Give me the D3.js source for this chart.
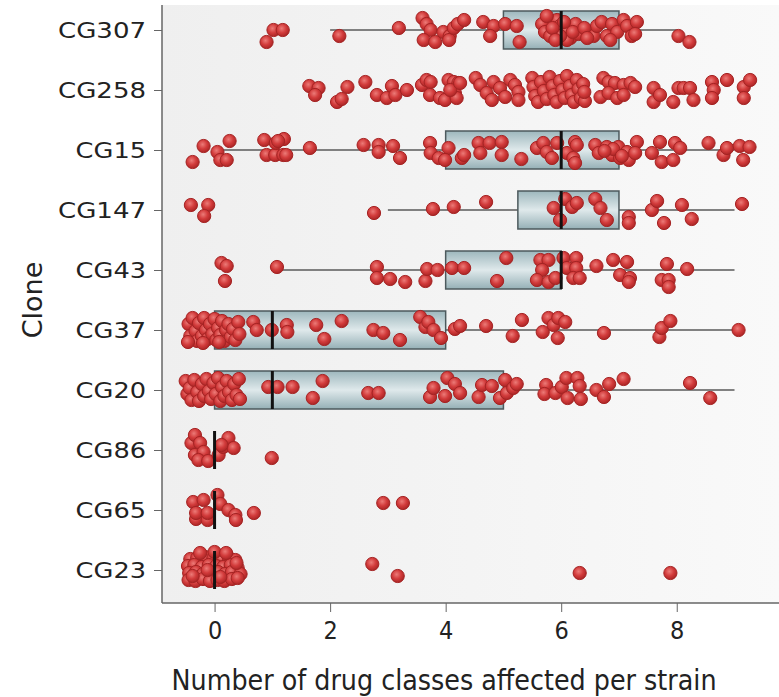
<!DOCTYPE html>
<html>
<head>
<meta charset="utf-8">
<script src="https://cdn.jsdelivr.net/npm/d3@7"></script>
<style>
  body { margin: 0; background: #fff; }
  svg { display: block; }
</style>
</head>
<body>
<div id="chart"></div>
<script>
// clones, top to bottom
const clones = ['CG307', 'CG258', 'CG15', 'CG147', 'CG43', 'CG37', 'CG20', 'CG86', 'CG65', 'CG23']

// box stats per clone (null = no box drawn)
const q1 = [5, null, 4, 5.25, 4, 0, 0, 0, 0, 0]
const medians = [6, null, 6, 6, 6, 1, 1, 0, 0, 0]
const q3 = [7, null, 7, 7, 6, 4, 5, 0, 0, 0]
const whiskLo = [2, null, 0, 3, 1, 0, 0, 0, 0, 0]
const whiskHi = [8, null, 9, 9, 9, 9, 9, 0, 0, 0]

const xTicks = [0, 2, 4, 6, 8]

// strains: [drug classes (jittered as plotted), vertical jitter -1..1]
const cg307 = [[0.90, 0.6], [1.02, 0], [1.18, 0], [2.16, 0.3], [3.19, -0.1], [3.60, -0.6], [3.67, -0.3], [3.74, 0], [3.62, 0.5], [3.82, 0.6], [3.96, 0.1], [4.07, 0.3], [4.06, 0.5], [4.14, -0.1], [4.21, -0.3], [4.32, -0.5], [4.65, -0.4], [4.83, -0.2], [4.77, 0.3], [5.03, -0.3], [5.23, -0.2], [5.28, 0.6], [5.67, -0.3], [5.72, 0.1], [5.81, 0.3], [5.93, -0.5], [5.98, -0.2], [6.10, 0], [6.16, 0.4], [6.25, -0.3], [6.30, 0.2], [6.10, 0.5], [5.98, 0.3], [5.75, -0.7], [6.56, 0.3], [6.62, -0.2], [6.70, -0.4], [6.79, 0.3], [6.88, -0.3], [6.97, 0.1], [7.08, -0.5], [7.14, -0.2], [7.22, 0.3], [7.31, -0.4], [7.28, 0.2], [8.03, 0.3], [8.22, 0.6], [5.85, -0.1], [6.05, -0.4], [6.20, 0.1], [5.90, 0.5], [6.40, -0.1], [6.45, 0.4], [6.85, 0.5]]
const cg258 = [[1.64, -0.2], [1.80, -0.1], [1.74, 0.25], [2.12, 0.6], [2.20, 0.45], [2.30, -0.15], [2.61, -0.4], [2.81, 0.25], [2.98, 0.4], [3.07, -0.2], [3.13, 0.25], [3.33, 0], [3.59, -0.25], [3.67, -0.5], [3.74, -0.4], [3.73, 0.25], [3.90, 0.4], [3.99, 0.5], [4.05, -0.5], [4.14, -0.4], [4.22, -0.35], [4.16, 0.15], [4.19, 0.4], [4.08, 0], [4.25, -0.35], [4.52, -0.6], [4.60, -0.25], [4.71, 0.15], [4.80, 0.5], [4.83, -0.4], [4.94, -0.1], [5.03, 0.35], [5.12, -0.5], [5.20, -0.25], [5.26, 0.1], [5.26, 0.5], [5.50, -0.6], [5.52, -0.15], [5.55, 0.3], [5.60, 0.6], [5.65, -0.4], [5.70, 0.05], [5.75, 0.45], [5.80, -0.65], [5.85, -0.2], [5.88, 0.25], [5.92, 0.6], [5.98, -0.45], [6.02, 0], [6.06, 0.4], [6.10, -0.7], [6.15, -0.2], [6.18, 0.25], [6.22, 0.6], [6.27, -0.5], [6.30, -0.05], [6.34, 0.4], [6.38, -0.3], [6.41, 0.55], [6.40, 0.1], [6.73, -0.6], [6.82, -0.4], [6.93, -0.35], [7.08, -0.25], [7.20, -0.35], [7.28, -0.15], [6.68, 0.35], [6.82, 0.15], [6.97, 0.4], [7.08, 0.25], [7.60, -0.1], [7.60, 0.6], [7.71, 0.25], [7.94, 0.6], [8.03, -0.1], [8.12, -0.1], [8.23, -0.1], [8.29, 0.5], [8.61, -0.4], [8.64, 0], [8.61, 0.4], [8.87, -0.5], [9.16, -0.15], [9.27, -0.5], [9.16, 0.4]]
const cg15 = [[-0.38, 0.6], [-0.19, -0.2], [0.05, 0.1], [0.10, 0.5], [0.21, 0.5], [0.26, -0.45], [0.86, -0.5], [0.90, 0.25], [1.05, 0.25], [1.06, -0.35], [1.19, 0.25], [1.20, -0.55], [1.24, 0.25], [1.10, -0.45], [1.65, -0.1], [2.58, -0.25], [2.84, -0.25], [2.84, 0.1], [3.09, -0.2], [3.21, 0.4], [3.73, -0.35], [3.74, 0.15], [3.88, 0.4], [4.05, -0.1], [3.99, 0.5], [4.28, 0.4], [4.32, 0.25], [4.57, -0.35], [4.60, 0.15], [4.76, -0.35], [4.97, -0.4], [4.97, 0.25], [5.31, 0.45], [5.58, -0.1], [5.69, -0.35], [5.75, 0.1], [5.84, 0.4], [5.93, -0.35], [6.10, 0.15], [6.24, -0.4], [6.27, -0.25], [6.21, 0.4], [6.24, 0.65], [6.59, -0.25], [6.65, 0.15], [6.79, -0.15], [6.88, 0.25], [6.99, -0.15], [7.02, 0.4], [7.14, 0.1], [7.17, 0.5], [7.31, -0.4], [7.28, 0.15], [7.57, 0.15], [7.71, -0.4], [7.74, 0.6], [7.94, 0.5], [7.97, -0.35], [8.06, -0.1], [8.55, -0.35], [8.81, 0.25], [8.87, -0.1], [9.09, -0.2], [9.15, 0.5], [9.26, -0.15], [6.90, -0.05], [7.05, 0.3], [6.75, 0.05]]
const cg147 = [[-0.41, -0.25], [-0.11, -0.25], [-0.18, 0.3], [2.76, 0.15], [3.78, -0.05], [4.14, -0.15], [4.70, -0.4], [5.87, -0.1], [5.98, 0.5], [6.07, -0.55], [6.19, -0.15], [6.27, -0.35], [6.59, -0.55], [6.68, -0.1], [6.79, 0.5], [7.17, 0.35], [7.17, 0.65], [7.57, 0], [7.66, -0.45], [7.78, 0.65], [8.09, -0.25], [8.26, 0.45], [9.13, -0.3]]
const cg43 = [[0.12, -0.35], [0.21, -0.2], [0.18, 0.55], [1.08, -0.15], [2.81, -0.15], [2.81, 0.4], [3.04, 0.45], [3.30, 0.6], [3.65, 0.55], [3.68, -0.05], [3.86, 0], [4.11, -0.1], [4.32, -0.1], [5.05, -0.6], [4.89, 0.55], [5.64, -0.5], [5.78, -0.5], [5.67, 0], [5.58, 0.5], [5.78, 0.6], [5.90, 0.4], [6.04, -0.6], [6.10, -0.1], [6.26, -0.6], [6.26, -0.1], [6.21, 0.4], [6.32, 0.4], [6.61, -0.2], [6.90, -0.5], [7.14, -0.4], [7.02, 0.25], [7.19, 0.4], [7.17, 0.6], [7.83, -0.3], [7.74, 0.5], [7.86, 0.5], [7.86, 0.85], [8.18, -0.05]]
const cg37 = [[-0.45, -0.3], [-0.42, 0.3], [-0.38, -0.6], [-0.33, 0.05], [-0.30, 0.55], [-0.27, -0.35], [-0.22, 0.3], [-0.18, -0.6], [-0.15, 0], [-0.12, 0.45], [-0.08, -0.3], [-0.04, 0.2], [0, -0.55], [0.03, 0.5], [0.06, -0.1], [0.10, 0.25], [0.13, -0.45], [0.17, 0.55], [0.20, 0], [0.24, -0.3], [0.28, 0.35], [0.32, -0.05], [0.36, 0.5], [0.41, -0.4], [0.43, 0.2], [-0.46, 0.6], [0.08, 0.6], [-0.20, 0.65], [0.67, -0.4], [0.73, 0], [0.99, 0], [1.25, -0.25], [1.26, 0.1], [1.76, -0.25], [1.90, 0.45], [2.20, -0.45], [2.75, 0], [2.92, 0.15], [3.21, 0.5], [3.56, -0.65], [3.65, -0.15], [3.70, -0.4], [3.79, 0], [3.92, 0.4], [4.16, -0.05], [4.25, -0.2], [4.70, -0.2], [5.16, 0.3], [5.32, -0.5], [5.68, 0.1], [5.78, -0.6], [5.87, -0.25], [5.95, -0.6], [5.94, 0.4], [6.07, -0.4], [6.74, 0.15], [7.70, 0.35], [7.74, -0.1], [7.89, -0.45], [9.07, 0]]
const cg20 = [[-0.50, -0.45], [-0.47, 0.2], [-0.43, -0.1], [-0.40, 0.5], [-0.35, -0.5], [-0.30, 0.1], [-0.27, 0.55], [-0.22, -0.3], [-0.18, 0.3], [-0.14, -0.55], [-0.10, 0.05], [-0.06, 0.45], [-0.02, -0.35], [0.02, 0.2], [0.06, -0.6], [0.10, 0.55], [0.13, -0.15], [0.17, 0.3], [0.21, -0.45], [0.25, 0.1], [0.30, 0.5], [0.34, -0.3], [0.38, 0.25], [0.42, -0.55], [0.44, 0.45], [0.93, -0.15], [1.09, -0.15], [1.35, -0.15], [1.70, 0.4], [1.87, -0.45], [2.66, 0.15], [2.84, 0.15], [3.73, 0.35], [3.79, -0.1], [4.03, -0.6], [4.16, -0.3], [3.99, 0.3], [4.25, 0.15], [4.57, 0.35], [4.63, -0.25], [4.80, -0.2], [4.94, 0.4], [5.03, -0.5], [5.06, 0.15], [5.17, -0.1], [5.23, -0.3], [5.74, -0.25], [5.71, 0.2], [5.90, 0.15], [6.01, -0.15], [6.09, -0.6], [6.11, 0.4], [6.28, -0.6], [6.32, -0.2], [6.34, 0.45], [6.61, 0], [6.74, 0.35], [6.83, -0.3], [7.08, -0.55], [8.23, -0.35], [8.58, 0.4]]
const cg86 = [[-0.40, -0.35], [-0.34, -0.75], [-0.25, -0.35], [-0.34, 0.25], [-0.19, 0.1], [-0.28, 0.5], [-0.11, 0.55], [0.07, 0.25], [0.15, -0.15], [0.24, -0.6], [0.33, -0.1], [0.12, -0.25], [0.99, 0.4]]
const cg65 = [[-0.37, -0.4], [-0.19, -0.5], [0.05, -0.75], [0.10, -0.3], [0.24, 0], [0.36, 0.25], [0.37, 0.5], [-0.32, 0.45], [-0.12, 0.5], [-0.32, 0.15], [-0.12, 0.15], [0.68, 0.15], [2.92, -0.35], [3.26, -0.35]]
const cg23 = [[-0.42, -0.55], [-0.30, -0.6], [-0.16, -0.65], [-0.02, -0.6], [0.12, -0.55], [0.25, -0.6], [0.36, -0.5], [-0.46, -0.2], [-0.35, -0.25], [-0.22, -0.15], [-0.10, -0.25], [0.03, -0.2], [0.15, -0.15], [0.28, -0.25], [0.40, -0.1], [-0.44, 0.15], [-0.32, 0.1], [-0.20, 0.2], [-0.07, 0.15], [0.06, 0.1], [0.18, 0.2], [0.30, 0.1], [0.45, 0.2], [-0.45, 0.5], [-0.33, 0.55], [-0.20, 0.45], [-0.08, 0.55], [0.05, 0.5], [0.17, 0.55], [0.30, 0.45], [0.40, 0.4], [-0.25, -0.85], [0, -0.9], [0.20, -0.85], [-0.38, 0.3], [0.10, 0.35], [0.38, -0.35], [-0.12, 0], [2.73, -0.3], [3.17, 0.3], [6.32, 0.15], [7.89, 0.15]]

const strains = [cg307, cg258, cg15, cg147, cg43, cg37, cg20, cg86, cg65, cg23]

const W = 779
const H = 697
const panel = { left: 162, right: 779, top: 5, bottom: 603 }

const svg = d3.select('#chart').append('svg')
  .attr('width', W)
  .attr('height', H)
  .style('font-family', "'DejaVu Sans', sans-serif")

const defs = svg.append('defs')
const bg = defs.append('linearGradient').attr('id', 'bg').attr('x1', 0).attr('x2', 1).attr('y1', 0).attr('y2', 0)
bg.append('stop').attr('offset', '0%').attr('stop-color', '#efefef')
bg.append('stop').attr('offset', '100%').attr('stop-color', '#f9f9f9')
const boxGrad = defs.append('linearGradient').attr('id', 'boxg').attr('x1', 0).attr('x2', 0).attr('y1', 0).attr('y2', 1)
boxGrad.append('stop').attr('offset', '0%').attr('stop-color', '#9db7bd')
boxGrad.append('stop').attr('offset', '50%').attr('stop-color', '#dfe9eb')
boxGrad.append('stop').attr('offset', '100%').attr('stop-color', '#95b0b6')
const dot = defs.append('radialGradient').attr('id', 'dot').attr('cx', '42%').attr('cy', '38%').attr('r', '62%')
dot.append('stop').attr('offset', '0%').attr('stop-color', '#ec7b78')
dot.append('stop').attr('offset', '55%').attr('stop-color', '#d23b3b')
dot.append('stop').attr('offset', '100%').attr('stop-color', '#ab2626')

const x = d3.scaleLinear().domain([-0.91, 9.77]).range([panel.left, panel.right])
const y = d3.scalePoint().domain(clones).range([30, 570])
const jitter = d3.scaleLinear().domain([-1, 1]).range([-20, 20])
const halfBox = 19

// panel background
svg.append('rect')
  .attr('x', panel.left).attr('y', panel.top)
  .attr('width', panel.right - panel.left).attr('height', panel.bottom - panel.top)
  .attr('fill', 'url(#bg)')

const boxes = clones.map((c, i) => ({ clone: c, q1: q1[i], med: medians[i], q3: q3[i], lo: whiskLo[i], hi: whiskHi[i] }))
  .filter(d => d.med !== null)

// whiskers
svg.append('g').selectAll('line')
  .data(boxes.filter(d => d.hi > d.lo))
  .join('line')
  .attr('x1', d => x(d.lo)).attr('x2', d => x(d.hi))
  .attr('y1', d => y(d.clone)).attr('y2', d => y(d.clone))
  .attr('stroke', '#5a5a5a').attr('stroke-width', 1.5)

// boxes
svg.append('g').selectAll('rect')
  .data(boxes.filter(d => d.q3 > d.q1))
  .join('rect')
  .attr('x', d => x(d.q1)).attr('width', d => x(d.q3) - x(d.q1))
  .attr('y', d => y(d.clone) - halfBox).attr('height', halfBox * 2)
  .attr('fill', 'url(#boxg)')
  .attr('stroke', '#4d5a5d').attr('stroke-width', 1.5)

// points
const pts = strains.flatMap((arr, i) => arr.map(d => ({ clone: clones[i], v: d[0], j: d[1] })))
svg.append('g').selectAll('circle')
  .data(pts)
  .join('circle')
  .attr('cx', d => x(d.v))
  .attr('cy', d => y(d.clone) + jitter(d.j))
  .attr('r', 6.6)
  .attr('fill', 'url(#dot)')
  .attr('stroke', '#a52323').attr('stroke-width', 1)

// medians
svg.append('g').selectAll('line')
  .data(boxes)
  .join('line')
  .attr('x1', d => x(d.med)).attr('x2', d => x(d.med))
  .attr('y1', d => y(d.clone) - halfBox).attr('y2', d => y(d.clone) + halfBox)
  .attr('stroke', '#111').attr('stroke-width', 3)

// axes
const xAxis = svg.append('g')
  .attr('transform', `translate(0,${panel.bottom})`)
  .call(d3.axisBottom(x).tickValues(xTicks).tickSize(9).tickPadding(9).tickFormat(d3.format('d')))
xAxis.select('.domain').remove()
xAxis.selectAll('.tick line').attr('stroke', '#666')
xAxis.selectAll('.tick text')
  .attr('fill', '#222')
  .style('font-family', "'Liberation Sans Narrow', 'DejaVu Sans Condensed', sans-serif")
  .style('font-size', '25px')

const yAxis = svg.append('g')
  .attr('transform', `translate(${panel.left},0)`)
  .call(d3.axisLeft(y).tickSize(8).tickPadding(8))
yAxis.select('.domain').remove()
yAxis.selectAll('.tick line').attr('stroke', '#666')
yAxis.selectAll('.tick text')
  .attr('fill', '#222')
  .style('font-family', "'DejaVu Sans', sans-serif")
  .style('font-size', '22px')
  .attr('textLength', d => d.length * 17.6)
  .attr('lengthAdjust', 'spacingAndGlyphs')

svg.append('line')
  .attr('x1', panel.left).attr('x2', panel.left)
  .attr('y1', panel.top).attr('y2', panel.bottom)
  .attr('stroke', '#666').attr('stroke-width', 1.5)
svg.append('line')
  .attr('x1', panel.left).attr('x2', panel.right)
  .attr('y1', panel.bottom).attr('y2', panel.bottom)
  .attr('stroke', '#666').attr('stroke-width', 1.5)

// titles
svg.append('text')
  .attr('x', 444).attr('y', 690)
  .attr('text-anchor', 'middle')
  .attr('textLength', 545).attr('lengthAdjust', 'spacingAndGlyphs')
  .attr('fill', '#222')
  .style('font-family', "'Liberation Sans Narrow', 'DejaVu Sans Condensed', sans-serif")
  .style('font-size', '28px')
  .text('Number of drug classes affected per strain')

svg.append('text')
  .attr('transform', 'translate(42,300) rotate(-90)')
  .attr('text-anchor', 'middle')
  .attr('fill', '#222')
  .style('font-family', "'DejaVu Sans', sans-serif")
  .style('font-size', '27px')
  .text('Clone')
</script>
</body>
</html>
